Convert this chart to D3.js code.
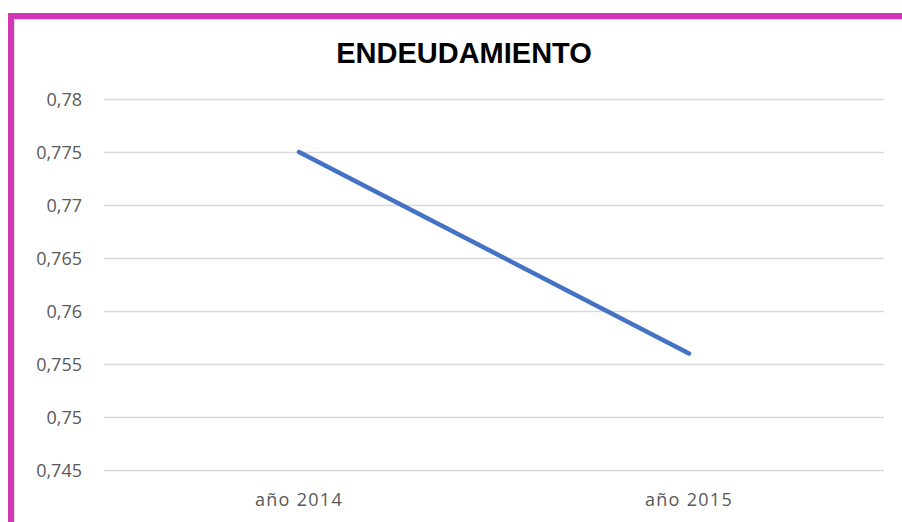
<!DOCTYPE html>
<html>
<head>
<meta charset="utf-8">
<script src="https://cdn.jsdelivr.net/npm/d3@7"></script>
<style>
html,body{margin:0;padding:0;background:#fff;}
svg{display:block;}
</style>
</head>
<body>
<svg id="chart" width="902" height="522"></svg>
<script>
const title = "ENDEUDAMIENTO";
const categories = ["año 2014", "año 2015"];
const values = [0.775, 0.756];
const yTicks = [0.745, 0.75, 0.755, 0.76, 0.765, 0.77, 0.775, 0.78];
const yTickLabels = ["0,745", "0,75", "0,755", "0,76", "0,765", "0,77", "0,775", "0,78"];

(function () {
const svg = d3.select("#chart");
const W = 902, H = 522;

// frame
svg.append("rect").attr("x", 0).attr("y", 0).attr("width", W).attr("height", H).attr("fill", "#fff");
svg.append("rect").attr("x", 8).attr("y", 13).attr("width", W).attr("height", 6).attr("fill", "#D236B4");
svg.append("rect").attr("x", 8).attr("y", 13).attr("width", 6).attr("height", H).attr("fill", "#D236B4");
svg.append("line").attr("x1", 14).attr("x2", W).attr("y1", 19.5).attr("y2", 19.5).attr("stroke", "#d9d9d9").attr("stroke-width", 1);
svg.append("line").attr("x1", 14.5).attr("x2", 14.5).attr("y1", 19).attr("y2", H).attr("stroke", "#d9d9d9").attr("stroke-width", 1);

const mLeft = 104, mRight = 884, mTop = 99, mBottom = 470;
const x = d3.scaleBand().domain(categories).range([mLeft, mRight]);
const y = d3.scaleLinear().domain([0.745, 0.78]).range([mBottom, mTop]);

// gridlines
svg.append("g").selectAll("line").data(yTicks).join("line")
  .attr("x1", mLeft).attr("x2", mRight)
  .attr("y1", d => Math.round(y(d)) + 0.5).attr("y2", d => Math.round(y(d)) + 0.5)
  .attr("stroke", "#d9d9d9").attr("stroke-width", 1.5);

// y axis labels
const yAxis = d3.axisLeft(y).tickValues(yTicks)
  .tickFormat((d, i) => yTickLabels[i]).tickSize(0).tickPadding(22);
const gy = svg.append("g").attr("transform", `translate(${mLeft},0)`).call(yAxis);
gy.select(".domain").remove();
gy.selectAll("text").attr("fill", "#595959").attr("dy", "0.36em")
  .style("font-family", "'Open Sans', sans-serif").style("font-size", "18px");

// x axis labels
const xAxis = d3.axisBottom(x).tickSize(0).tickPadding(23);
const gx = svg.append("g").attr("transform", `translate(0,${mBottom})`).call(xAxis);
gx.select(".domain").remove();
gx.selectAll("text").attr("fill", "#595959")
  .style("font-family", "'Open Sans', sans-serif").style("font-size", "18px").style("letter-spacing", "1.3px");

// line
const line = d3.line().x((d, i) => x(categories[i]) + x.bandwidth() / 2).y(d => y(d));
svg.append("path").datum(values).attr("d", line)
  .attr("fill", "none").attr("stroke", "#4472C4").attr("stroke-width", 4.5)
  .attr("stroke-linecap", "round").attr("stroke-linejoin", "round");

// title
svg.append("text").attr("x", 464).attr("y", 63).attr("text-anchor", "middle")
  .style("font-family", "'Liberation Sans', Arial, sans-serif").style("font-size", "29px").style("font-weight", "bold")
  .attr("fill", "#000").text(title);
})();
</script>
</body>
</html>
